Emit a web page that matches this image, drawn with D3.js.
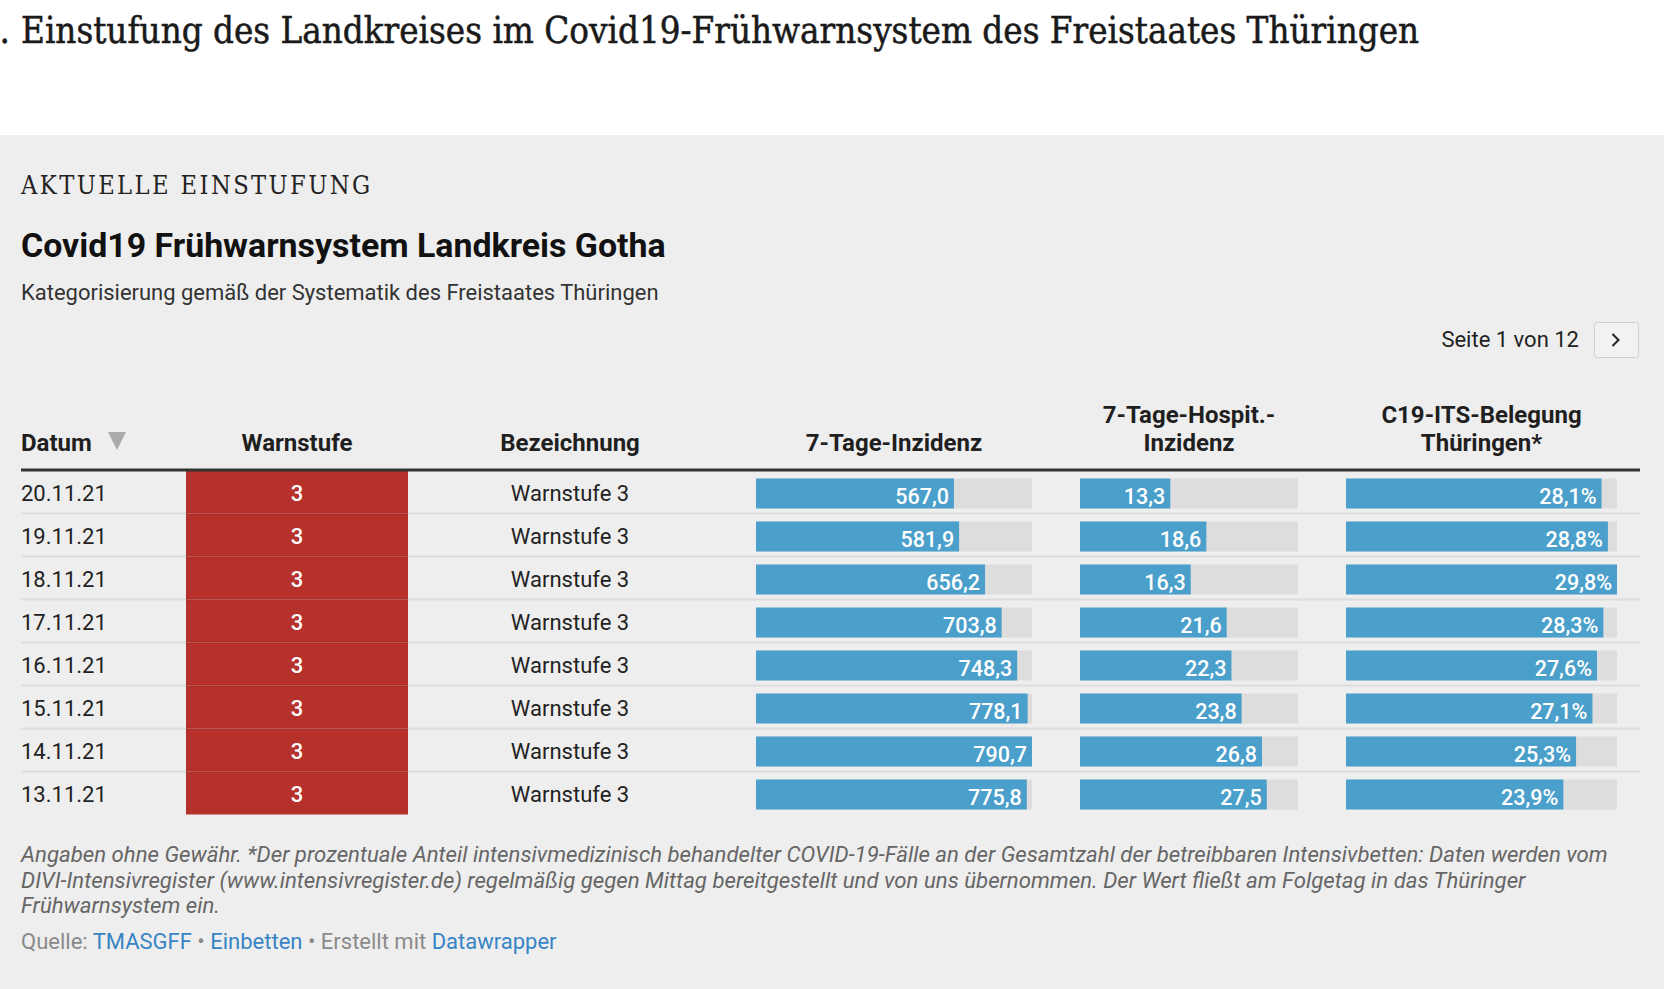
<!DOCTYPE html>
<html>
<head>
<meta charset="utf-8">
<script src="https://cdn.jsdelivr.net/npm/d3@7"></script>
<style>
  body { margin: 0; background: #fff; }
  svg { display: block; font-family: Roboto, "Noto Sans", sans-serif; }
</style>
</head>
<body>
<svg id="chart" width="1664" height="989"></svg>
<script>
// table data (page 1 of 12)
const dates = ["20.11.21", "19.11.21", "18.11.21", "17.11.21", "16.11.21", "15.11.21", "14.11.21", "13.11.21"];
const warnstufe = [3, 3, 3, 3, 3, 3, 3, 3];
const bezeichnung = ["Warnstufe 3", "Warnstufe 3", "Warnstufe 3", "Warnstufe 3", "Warnstufe 3", "Warnstufe 3", "Warnstufe 3", "Warnstufe 3"];
const inzidenz = [567.0, 581.9, 656.2, 703.8, 748.3, 778.1, 790.7, 775.8];
const hospit = [13.3, 18.6, 16.3, 21.6, 22.3, 23.8, 26.8, 27.5];
const itsBelegung = [28.1, 28.8, 29.8, 28.3, 27.6, 27.1, 25.3, 23.9];
// bar scales in datawrapper use the max over all pages
const hospitMax = 32.1;

const headerLabels = ["Datum", "Warnstufe", "Bezeichnung", "7-Tage-Inzidenz", "7-Tage-Hospit.-|Inzidenz", "C19-ITS-Belegung|Thüringen*"];

const pageNo = "1.";
const pageTitle = "Einstufung des Landkreises im Covid19-Frühwarnsystem des Freistaates Thüringen";
const kicker = "AKTUELLE EINSTUFUNG";
const headline = "Covid19 Frühwarnsystem Landkreis Gotha";
const subtitle = "Kategorisierung gemäß der Systematik des Freistaates Thüringen";
const notes = [
  "Angaben ohne Gewähr. *Der prozentuale Anteil intensivmedizinisch behandelter COVID-19-Fälle an der Gesamtzahl der betreibbaren Intensivbetten: Daten werden vom",
  "DIVI-Intensivregister (www.intensivregister.de) regelmäßig gegen Mittag bereitgestellt und von uns übernommen. Der Wert fließt am Folgetag in das Thüringer",
  "Frühwarnsystem ein."
];

const rows = dates.map((d, i) => ({
  date: d, stufe: warnstufe[i], name: bezeichnung[i],
  inz: inzidenz[i], hosp: hospit[i], its: itsBelegung[i]
}));

const de = d3.formatLocale({ decimal: ",", thousands: ".", grouping: [3], currency: ["", "€"] });
const fmt1 = de.format(".1f");

const svg = d3.select("#chart");
const serif = "'DejaVu Serif Condensed', 'DejaVu Serif', serif";

// shrink/grow a text to a wanted width (fonts on this machine differ)
function fitText(sel, width) {
  const w = sel.node().getComputedTextLength();
  const size = parseFloat(sel.attr("font-size"));
  sel.attr("font-size", size * width / w);
}

// page heading above the embed
const titleT = svg.append("text")
  .attr("x", 21).attr("y", 43)
  .attr("font-family", serif)
  .attr("font-stretch", "condensed")
  .attr("font-size", 32)
  .attr("fill", "#1a1a1a")
  .attr("stroke", "#1a1a1a")
  .attr("stroke-width", 0.5)
  .text(pageTitle);
fitText(titleT, 1399);
svg.append("text")
  .attr("x", 10).attr("y", 43)
  .attr("text-anchor", "end")
  .attr("font-family", serif)
  .attr("font-stretch", "condensed")
  .attr("font-size", titleT.attr("font-size"))
  .attr("fill", "#1a1a1a")
  .attr("stroke", "#1a1a1a")
  .attr("stroke-width", 0.5)
  .text(pageNo);

// gray embed area
svg.append("rect")
  .attr("x", 0).attr("y", 135)
  .attr("width", 1664).attr("height", 989 - 135)
  .attr("fill", "#eeeeee");

const kickerT = svg.append("text")
  .attr("x", 21).attr("y", 194)
  .attr("font-family", serif)
  .attr("font-stretch", "condensed")
  .attr("font-size", 23)
  .attr("letter-spacing", 2.4)
  .attr("fill", "#222")
  .text(kicker);
fitText(kickerT, 356);

const headT = svg.append("text")
  .attr("x", 21).attr("y", 257)
  .attr("font-size", 32)
  .attr("font-weight", 700)
  .attr("fill", "#111")
  .text(headline);
fitText(headT, 645);

const subT = svg.append("text")
  .attr("x", 21).attr("y", 300)
  .attr("font-size", 20)
  .attr("fill", "#333")
  .text(subtitle);
fitText(subT, 638);

// pagination
svg.append("text")
  .attr("x", 1579).attr("y", 347)
  .attr("text-anchor", "end")
  .attr("font-size", 22)
  .attr("fill", "#222")
  .text("Seite 1 von 12");
svg.append("rect")
  .attr("x", 1594.5).attr("y", 322.5)
  .attr("width", 44).attr("height", 35)
  .attr("rx", 3)
  .attr("fill", "#f2f2f2")
  .attr("stroke", "#cfcfcf");
svg.append("path")
  .attr("d", "M1612.5,334 L1618.5,340 L1612.5,346")
  .attr("fill", "none")
  .attr("stroke", "#222")
  .attr("stroke-width", 2);

// table
const left = 21, right = 1640;
const y = d3.scaleBand().domain(dates).range([470.5, 814.5]);

const xInz = d3.scaleLinear().domain([0, d3.max(inzidenz)]).range([756, 1032]);
const xHosp = d3.scaleLinear().domain([0, hospitMax]).range([1080, 1298]);
const xIts = d3.scaleLinear().domain([0, d3.max(itsBelegung)]).range([1346, 1617]);
const stufeColor = d3.scaleOrdinal().domain([1, 2, 3]).range(["#f2c12e", "#e3802b", "#b7312c"]);

const headerX = [left, 297, 570, d3.mean(xInz.range()), d3.mean(xHosp.range()), d3.mean(xIts.range())];

const header = svg.append("g")
  .attr("font-size", 24)
  .attr("font-weight", 700)
  .attr("fill", "#1f1f1f");
headerLabels.forEach((lab, i) => {
  const lines = lab.split("|");
  const t = header.append("text")
    .attr("x", headerX[i])
    .attr("text-anchor", i === 0 ? "start" : "middle");
  lines.forEach((l, j) => {
    t.append("tspan")
      .attr("x", headerX[i])
      .attr("y", 451 - (lines.length - 1 - j) * 28)
      .text(l);
  });
});
// sort arrow next to Datum
svg.append("path")
  .attr("d", "M108,432 L126,432 L117,450 Z")
  .attr("fill", "#ababab");

// warnstufe cells
svg.append("g").selectAll("rect")
  .data(rows)
  .join("rect")
  .attr("x", 186).attr("width", 222)
  .attr("y", d => y(d.date))
  .attr("height", y.bandwidth())
  .attr("fill", d => stufeColor(d.stufe));

// row lines
svg.append("g").selectAll("line")
  .data(rows.slice(0, -1))
  .join("line")
  .attr("x1", left).attr("x2", right)
  .attr("y1", d => y(d.date) + y.bandwidth())
  .attr("y2", d => y(d.date) + y.bandwidth())
  .attr("stroke", "#000")
  .attr("stroke-opacity", 0.075)
  .attr("stroke-width", 2);

svg.append("line")
  .attr("x1", left).attr("x2", right)
  .attr("y1", 470).attr("y2", 470)
  .attr("stroke", "#333")
  .attr("stroke-width", 3);

const body = svg.append("g").attr("font-size", 22);

body.selectAll("text.date")
  .data(rows)
  .join("text")
  .attr("class", "date")
  .attr("x", left)
  .attr("y", d => y(d.date) + 30)
  .attr("fill", "#222")
  .text(d => d.date);

body.selectAll("text.stufe")
  .data(rows)
  .join("text")
  .attr("class", "stufe")
  .attr("x", 297)
  .attr("y", d => y(d.date) + 30)
  .attr("text-anchor", "middle")
  .attr("font-weight", 500)
  .attr("fill", "#fff")
  .text(d => d.stufe);

body.selectAll("text.name")
  .data(rows)
  .join("text")
  .attr("class", "name")
  .attr("x", 570)
  .attr("y", d => y(d.date) + 30)
  .attr("text-anchor", "middle")
  .attr("fill", "#222")
  .text(d => d.name);

// bar columns
const barCols = [
  { key: "inz", x: xInz, label: d => fmt1(d) },
  { key: "hosp", x: xHosp, label: d => fmt1(d) },
  { key: "its", x: xIts, label: d => fmt1(d) + "%" }
];

barCols.forEach(col => {
  const g = svg.append("g");
  const [x0, x1] = col.x.range();
  g.selectAll("rect.bg")
    .data(rows)
    .join("rect")
    .attr("class", "bg")
    .attr("x", x0).attr("width", x1 - x0)
    .attr("y", d => y(d.date) + 8)
    .attr("height", 30)
    .attr("fill", "#dddddd");
  g.selectAll("rect.bar")
    .data(rows)
    .join("rect")
    .attr("class", "bar")
    .attr("x", x0)
    .attr("width", d => col.x(d[col.key]) - x0)
    .attr("y", d => y(d.date) + 8)
    .attr("height", 30)
    .attr("fill", "#4b9fcb");
  g.selectAll("text")
    .data(rows)
    .join("text")
    .attr("x", d => col.x(d[col.key]) - 5)
    .attr("y", d => y(d.date) + 33.5)
    .attr("text-anchor", "end")
    .attr("font-size", 21.5)
    .attr("font-weight", 500)
    .attr("fill", "#fff")
    .text(d => col.label(d[col.key]));
});

// notes and source
const noteG = svg.append("g")
  .attr("font-style", "italic")
  .attr("fill", "#666");
const noteTexts = notes.map((line, i) => noteG.append("text")
  .attr("x", left)
  .attr("y", 862 + i * 25.5)
  .attr("font-size", 20)
  .text(line));
fitText(noteTexts[0], 1587);
noteTexts.forEach(t => t.attr("font-size", noteTexts[0].attr("font-size")));

const src = svg.append("text")
  .attr("x", left).attr("y", 949)
  .attr("font-size", 22)
  .attr("fill", "#8a8a8a");
src.append("tspan").text("Quelle: ");
src.append("tspan").attr("fill", "#3784c6").text("TMASGFF");
src.append("tspan").text(" • ");
src.append("tspan").attr("fill", "#3784c6").text("Einbetten");
src.append("tspan").text(" • Erstellt mit ");
src.append("tspan").attr("fill", "#3784c6").text("Datawrapper");
</script>
</body>
</html>
